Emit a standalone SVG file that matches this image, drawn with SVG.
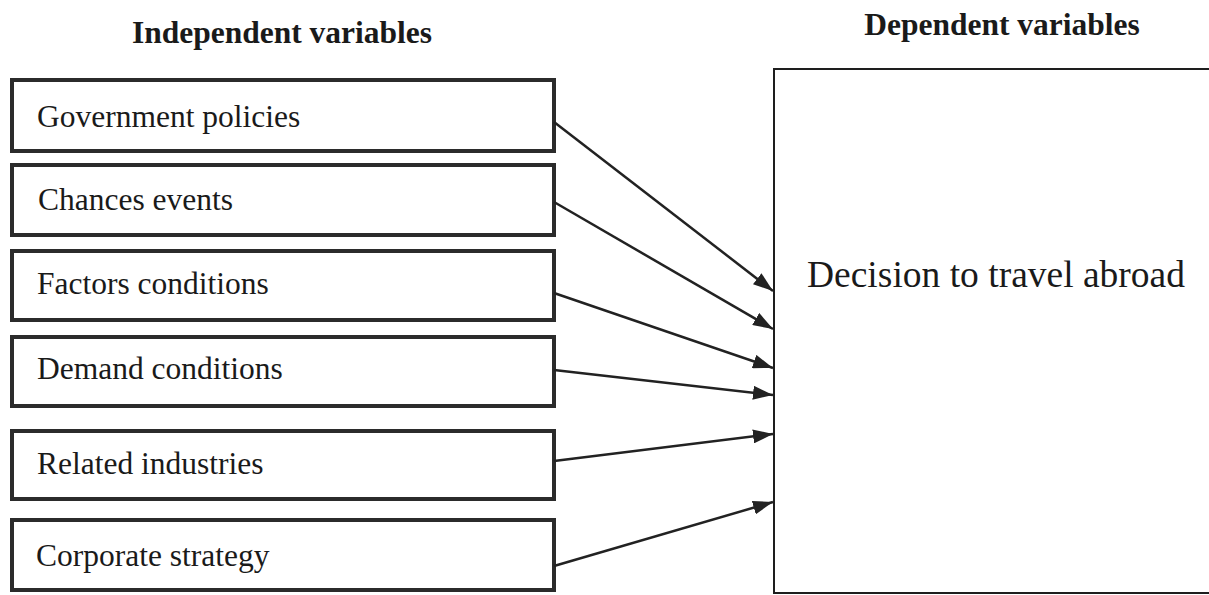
<svg xmlns="http://www.w3.org/2000/svg" width="1209" height="595" viewBox="0 0 1209 595">
  <style>
    .title { font-family: "Liberation Serif", "Times New Roman", serif; font-weight: bold; font-size: 31.5px; fill: #1a1a1a; }
    .lbl { font-family: "Liberation Serif", "Times New Roman", serif; font-size: 31.5px; fill: #1a1a1a; }
    .big { font-family: "Liberation Serif", "Times New Roman", serif; font-size: 37.5px; fill: #1a1a1a; }
    .box { fill: #ffffff; stroke: #2b2b2b; stroke-width: 4; }
    .dep { fill: #ffffff; stroke: #1e1e1e; stroke-width: 2; }
    .conn { stroke: #222222; stroke-width: 2.5; fill: none; marker-end: url(#arrow); }
  </style>
  <defs>
    <marker id="arrow" viewBox="0 0 20 14" refX="20" refY="7" markerWidth="20" markerHeight="14" markerUnits="userSpaceOnUse" orient="auto">
      <path d="M0,0 L20,7 L0,14 Z" fill="#222222"/>
    </marker>
  </defs>
  <rect width="1209" height="595" fill="#ffffff"/>

  <text class="title" x="282" y="43" text-anchor="middle">Independent variables</text>
  <text class="title" x="1002" y="35" text-anchor="middle">Dependent variables</text>

  <g id="node-dependent">
    <rect class="dep" x="774" y="69" width="445" height="524"/>
    <text class="big" x="996" y="287" text-anchor="middle">Decision to travel abroad</text>
  </g>

  <g id="node-government">
    <rect class="box" x="12" y="80" width="542" height="71"/>
    <text class="lbl" x="37" y="127">Government policies</text>
  </g>
  <g id="node-chances">
    <rect class="box" x="12" y="165" width="542" height="70"/>
    <text class="lbl" x="38" y="210">Chances events</text>
  </g>
  <g id="node-factors">
    <rect class="box" x="12" y="251" width="542" height="69"/>
    <text class="lbl" x="37" y="294">Factors conditions</text>
  </g>
  <g id="node-demand">
    <rect class="box" x="12" y="337" width="542" height="69"/>
    <text class="lbl" x="37" y="379">Demand conditions</text>
  </g>
  <g id="node-related">
    <rect class="box" x="12" y="431" width="542" height="68"/>
    <text class="lbl" x="37" y="474">Related industries</text>
  </g>
  <g id="node-corporate">
    <rect class="box" x="12" y="520" width="542" height="70"/>
    <text class="lbl" x="36" y="566">Corporate strategy</text>
  </g>

  <g id="connectors">
    <line class="conn" x1="554" y1="122" x2="773" y2="291"/>
    <line class="conn" x1="554" y1="202" x2="773" y2="329"/>
    <line class="conn" x1="554" y1="293" x2="773" y2="368"/>
    <line class="conn" x1="554" y1="370" x2="773" y2="395"/>
    <line class="conn" x1="554" y1="461" x2="773" y2="434"/>
    <line class="conn" x1="554" y1="566" x2="773" y2="502"/>
  </g>
</svg>
